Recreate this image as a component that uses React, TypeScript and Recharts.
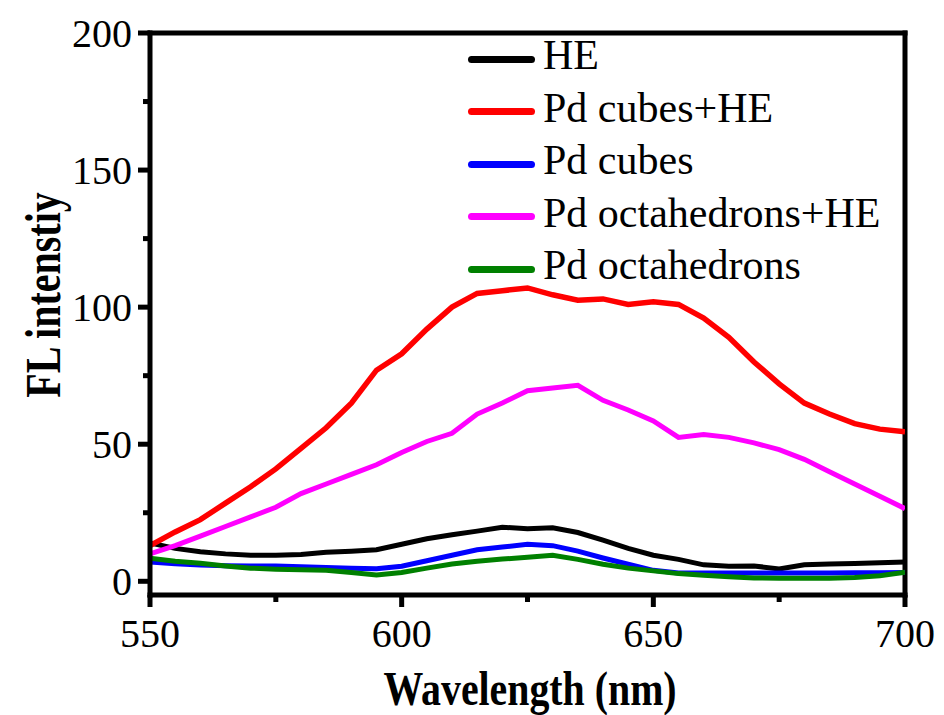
import React from "react";
import { LineChart, Line, XAxis, YAxis, Legend, ReferenceLine } from "recharts";

const FONT = '"Liberation Serif", "Times New Roman", serif';

const wavelengths = [
  550, 555, 560, 565, 570, 575, 580, 585, 590, 595, 600, 605, 610, 615, 620, 625,
  630, 635, 640, 645, 650, 655, 660, 665, 670, 675, 680, 685, 690, 695, 700,
];

const heValues = [
  14, 12, 10.8, 10, 9.5, 9.5, 9.8, 10.6, 11, 11.5, 13.5, 15.5, 17, 18.3, 19.7, 19.2,
  19.5, 17.8, 15, 12, 9.5, 8, 6, 5.5, 5.6, 4.5, 6, 6.3, 6.5, 6.8, 7,
];

const cubesHeValues = [
  13, 18, 22.5, 28.5, 34.5, 41, 48.5, 56, 65, 77, 83, 92, 100, 105, 106, 107,
  104.5, 102.5, 103, 101, 102, 101, 96, 89, 80, 72, 65, 61, 57.5, 55.5, 54.5,
];

const cubesValues = [
  7, 6.4, 5.9, 5.7, 5.6, 5.6, 5.3, 5, 4.8, 4.6, 5.5, 7.5, 9.5, 11.5, 12.5, 13.5,
  13, 11, 8.5, 6.2, 4, 3, 3, 3, 3, 3, 3, 3, 3.1, 3.1, 3.2,
];

const octHeValues = [
  10, 13, 16.5, 20, 23.5, 27, 32, 35.5, 39, 42.5, 47, 51, 54, 61, 65, 69.5,
  70.5, 71.5, 66, 62.5, 58.5, 52.5, 53.5, 52.5, 50.5, 48, 44.5, 40, 35.5, 31, 26.5,
];

const octValues = [
  8.4, 7.3, 6.6, 5.6, 4.8, 4.4, 4.2, 4, 3.2, 2.3, 3.2, 4.8, 6.3, 7.3, 8.1, 8.8,
  9.5, 8, 6.2, 4.8, 3.8, 2.8, 2.2, 1.7, 1.2, 1.1, 1.1, 1.1, 1.4, 2, 3.3,
];

const xTicks = [550, 575, 600, 625, 650, 675, 700];
const xLabelTicks = [550, 600, 650, 700];
const yTicks = [0, 25, 50, 75, 100, 125, 150, 175, 200];
const yLabelTicks = [0, 50, 100, 150, 200];

const seriesNames = ["HE", "Pd cubes+HE", "Pd cubes", "Pd octahedrons+HE", "Pd octahedrons"];

const data = wavelengths.map((wl, i) => ({
  wl,
  he: heValues[i],
  cubesHe: cubesHeValues[i],
  cubes: cubesValues[i],
  octHe: octHeValues[i],
  oct: octValues[i],
}));

const XTick = (props: any) => {
  const { x, y, payload } = props;
  const v = payload.value;
  const major = xLabelTicks.includes(v);
  const axisY = y - 24;
  return (
    <g>
      <line x1={x} x2={x} y1={axisY} y2={axisY + (major ? 12 : 7)} stroke="#000" strokeWidth={5} />
      {major && (
        <text x={x} y={y} dy="0.71em" textAnchor="middle" fontSize={40} fontFamily={FONT} fill="#000">
          {v}
        </text>
      )}
    </g>
  );
};

const YTick = (props: any) => {
  const { x, y, payload } = props;
  const v = payload.value;
  const major = yLabelTicks.includes(v);
  const axisX = x + 18;
  return (
    <g>
      <line x1={axisX - (major ? 12 : 7)} x2={axisX} y1={y} y2={y} stroke="#000" strokeWidth={5} />
      {major && (
        <text x={x} y={y} dy="0.355em" textAnchor="end" fontSize={40} fontFamily={FONT} fill="#000">
          {v}
        </text>
      )}
    </g>
  );
};

const XTitle = () => (
  <text
    transform="translate(522, 697) scale(0.83, 1)"
    x={0}
    y={0}
    textAnchor="middle"
    fontSize={48}
    fontWeight="bold"
    fontFamily={FONT}
    fill="#000"
  >
    Wavelength (nm)
  </text>
);

const YTitle = () => (
  <text
    transform="translate(52, 287) rotate(-90) scale(0.8, 1)"
    x={0}
    y={0}
    textAnchor="middle"
    fontSize={50}
    fontWeight="bold"
    fontFamily={FONT}
    fill="#000"
  >
    FL intenstiy
  </text>
);

const renderLegend = (props: any) => {
  const payload = [...(props.payload || [])].sort(
    (a: any, b: any) => seriesNames.indexOf(a.value) - seriesNames.indexOf(b.value)
  );
  return (
    <div style={{ fontFamily: FONT, fontSize: 42, lineHeight: "52.5px", color: "#000" }}>
      {payload.map((e: any) => (
        <div key={e.value} style={{ whiteSpace: "nowrap" }}>
          <span
            style={{
              display: "inline-block",
              width: 67,
              height: 7,
              borderRadius: 3.5,
              background: e.color,
              verticalAlign: "middle",
              marginRight: 8,
            }}
          />
          {e.value}
        </div>
      ))}
    </div>
  );
};

export default function App() {
  return (
    <LineChart
      width={936}
      height={707}
      data={data}
      margin={{ top: 25, right: 39, left: 0, bottom: 30 }}
    >
      <XAxis
        dataKey="wl"
        type="number"
        domain={[550, 700]}
        ticks={xTicks}
        interval={0}
        height={90}
        tickSize={12}
        tickMargin={12}
        tickLine={false}
        tick={<XTick />}
        axisLine={{ stroke: "#000", strokeWidth: 5, strokeLinecap: "square" }}
        allowDataOverflow
        label={<XTitle />}
      />
      <YAxis
        type="number"
        domain={[-5, 200]}
        ticks={yTicks}
        interval={0}
        width={142}
        tickSize={12}
        tickMargin={6}
        tickLine={false}
        tick={<YTick />}
        axisLine={{ stroke: "#000", strokeWidth: 5, strokeLinecap: "square" }}
        allowDataOverflow
        label={<YTitle />}
      />
      <ReferenceLine y={200} stroke="#000" strokeWidth={5} strokeLinecap="square" />
      <ReferenceLine x={700} stroke="#000" strokeWidth={5} strokeLinecap="square" />
      <Legend
        layout="vertical"
        align="center"
        verticalAlign="middle"
        content={renderLegend}
        wrapperStyle={{ left: 460, top: 21, width: 450 }}
      />
      <Line name={seriesNames[0]} dataKey="he" stroke="#000000" strokeWidth={5} dot={false} isAnimationActive={false} />
      <Line name={seriesNames[1]} dataKey="cubesHe" stroke="#ff0000" strokeWidth={5.5} dot={false} isAnimationActive={false} />
      <Line name={seriesNames[2]} dataKey="cubes" stroke="#0000ff" strokeWidth={5} dot={false} isAnimationActive={false} />
      <Line name={seriesNames[3]} dataKey="octHe" stroke="#ff00ff" strokeWidth={5} dot={false} isAnimationActive={false} />
      <Line name={seriesNames[4]} dataKey="oct" stroke="#008000" strokeWidth={5} dot={false} isAnimationActive={false} />
    </LineChart>
  );
}
